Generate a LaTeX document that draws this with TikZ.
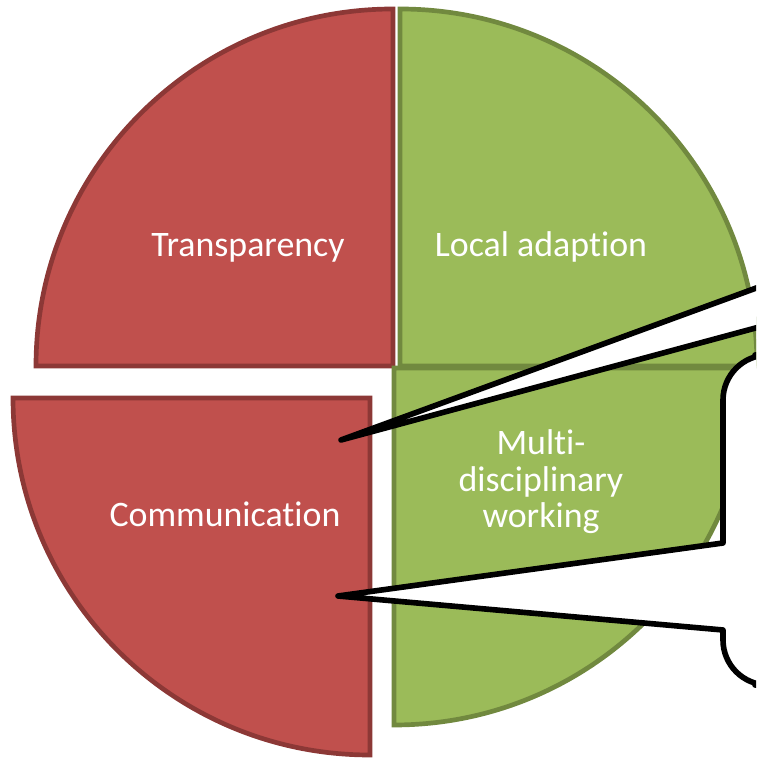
\documentclass[tikz,border=0pt]{standalone}
\usepackage{fontspec}
\setmainfont{Carlito}[Ligatures=NoCommon,Contextuals=NoAlternate]
\definecolor{redfill}{HTML}{C0504D}
\definecolor{redline}{HTML}{8C3836}
\definecolor{greenfill}{HTML}{9BBB59}
\definecolor{greenline}{HTML}{71893F}

\begin{document}
\begin{tikzpicture}[x=0.03cm,y=0.03cm,
	redpart/.style={fill=redfill,draw=redline,line width=4pt},
	greenpart/.style={fill=greenfill,draw=greenline,line width=4pt},
	bubble/.style={fill=white,draw=black,line width=4.8pt,line join=round},
	slicetext/.style={text=white,font=\fontsize{30.6pt}{31.1pt}\selectfont}]
	\useasboundingbox (0,0) rectangle (756,758);
	\clip (0,0) rectangle (756,758);

	\draw [redpart](393,392)--(36,392) arc(180:90:357)--cycle;
	\draw [greenpart](400,392)--(400,749) arc(90:0:357)--cycle;
	\draw [greenpart](394,390)--(751,390) arc(0:-90:357)--cycle;
	\draw [redpart](370,360)--(370,3) arc(270:180:357)--cycle;

	\node [slicetext,anchor=base] (transp) at (248,501) {Transparency};
	\node [slicetext,anchor=base] (local) at (541,501) {Local adapt\kern0pt ion};
	\node [slicetext,anchor=base] (comm) at (225,231) {Communicat\kern0pt ion};
	\node [slicetext,align=center] (multi) at (541,276) {Mult\kern0pt i-\\disciplinary\\working};

	\coordinate (tipA) at (338,162);
	\coordinate (tipB) at (341,318);
	\draw [bubble](800,403) [rounded corners=1.35cm]--(723,403) [sharp corners]--(723,215)--(tipA)--(723,128) [rounded corners=1.35cm]--(723,73)--(800,73)--cycle;
	\draw [bubble](800,486)--(tipB)--(800,442)--cycle;
\end{tikzpicture}
\end{document}
